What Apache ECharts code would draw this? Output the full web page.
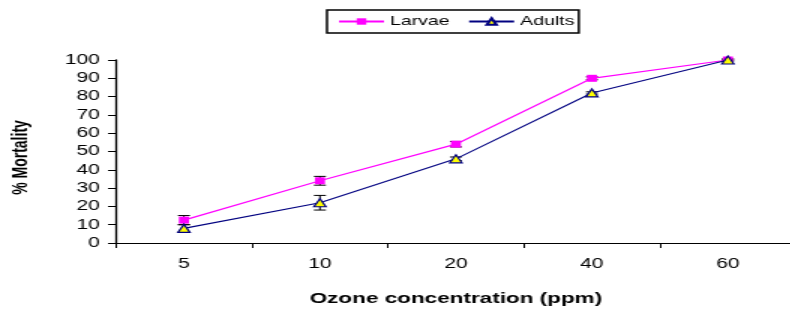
<!DOCTYPE html>
<html><head><meta charset="utf-8">
<script src="https://cdn.jsdelivr.net/npm/echarts@6/dist/echarts.min.js"></script>
<style>
html,body{margin:0;padding:0;background:#fff;overflow:hidden}
#wrap{width:790px;height:309px;overflow:hidden;position:relative}
#c{width:527px;height:309px;transform:scaleX(1.5);transform-origin:0 0;position:absolute;left:0;top:0}
</style>
</head><body><div id="wrap"><div id="c"></div></div>
<script>
const categories = ['5', '10', '20', '40', '60'];
const larvae = [12.5, 34, 54, 90, 100];
const adults = [8, 22, 46, 82, 100];
const larvaeErr = [2.5, 2.4, 1.5, 0.8, 0.5];
const adultsErr = [2, 4, 1, 0.6, 0.5];
const yTicks = [0, 10, 20, 30, 40, 50, 60, 70, 80, 90, 100];

function errData(vals, errs) { return vals.map((v, i) => [i, v, errs[i]]); }
function renderErr(params, api) {
  const x = api.value(0), y = api.value(1), e = api.value(2);
  const hi = api.coord([x, y + e]);
  const lo = api.coord([x, y - e]);
  const w = 4;
  const st = { stroke: '#000', lineWidth: 1 };
  return { type: 'group', children: [
    { type: 'line', shape: { x1: hi[0], y1: hi[1], x2: lo[0], y2: lo[1] }, style: st },
    { type: 'line', shape: { x1: hi[0] - w, y1: hi[1], x2: hi[0] + w, y2: hi[1] }, style: st },
    { type: 'line', shape: { x1: lo[0] - w, y1: lo[1], x2: lo[0] + w, y2: lo[1] }, style: st }
  ]};
}

const chart = echarts.init(document.getElementById('c'), null, { renderer: 'canvas' });
const font = 'Liberation Sans, Arial, sans-serif';
chart.setOption({
  animation: false,
  textStyle: { fontFamily: font },
  grid: { left: 77.3, top: 60, height: 183, width: 453.3, containLabel: false, outerBoundsMode: 'none' },
  legend: {
    data: ['Larvae', 'Adults'],
    left: 218, top: 10,
    padding: [5, 3, 5, 7],
    itemGap: 12,
    itemWidth: 30, itemHeight: 8,
    borderColor: '#000', borderWidth: 1.5,
    textStyle: { fontSize: 13, color: '#000', fontFamily: font, padding: [0, 0, 0, -1] }
  },
  xAxis: {
    type: 'category', data: categories,
    boundaryGap: true,
    name: 'Ozone concentration (ppm)', nameLocation: 'middle', nameGap: 48,
    nameTextStyle: { fontSize: 15, fontWeight: 'bold', color: '#000', fontFamily: font },
    axisLine: { lineStyle: { color: '#000', width: 1.2 } },
    axisTick: { show: true, length: 5, alignWithLabel: false, lineStyle: { color: '#000' } },
    axisLabel: { fontSize: 14, color: '#000', margin: 14, fontFamily: font },
    splitLine: { show: false }
  },
  yAxis: {
    type: 'value', min: 0, max: 100, interval: 10,
    name: '% Mortality', nameLocation: 'middle', nameGap: 56, nameRotate: 90,
    nameTextStyle: { fontSize: 14, fontWeight: 'bold', color: '#000', fontFamily: font, padding: [0, 12, 0, 0] },
    axisLine: { show: true, lineStyle: { color: '#000', width: 1.3 } },
    axisTick: { show: true, length: 5.3, lineStyle: { color: '#000' } },
    axisLabel: { fontSize: 14, color: '#000', margin: 10.7, fontFamily: font,
      formatter: v => yTicks.includes(v) ? String(v) : '' },
    splitLine: { show: false }
  },
  series: [
    { type: 'custom', name: 'errL', renderItem: renderErr, data: errData(larvae, larvaeErr), z: 1, silent: true },
    { type: 'custom', name: 'errA', renderItem: renderErr, data: errData(adults, adultsErr), z: 1, silent: true },
    { type: 'line', name: 'Larvae', data: larvae, z: 3,
      symbol: 'rect', symbolSize: [6.7, 7],
      lineStyle: { color: '#FF00FF', width: 1.2 },
      itemStyle: { color: '#FF00FF', borderColor: '#FF00FF', borderWidth: 0 } },
    { type: 'line', name: 'Adults', data: adults, z: 4,
      symbol: 'triangle', symbolSize: [8, 8],
      lineStyle: { color: '#000080', width: 1.1 },
      itemStyle: { color: '#FFFF00', borderColor: '#000080', borderWidth: 1.2 } }
  ]
});
</script></body></html>
